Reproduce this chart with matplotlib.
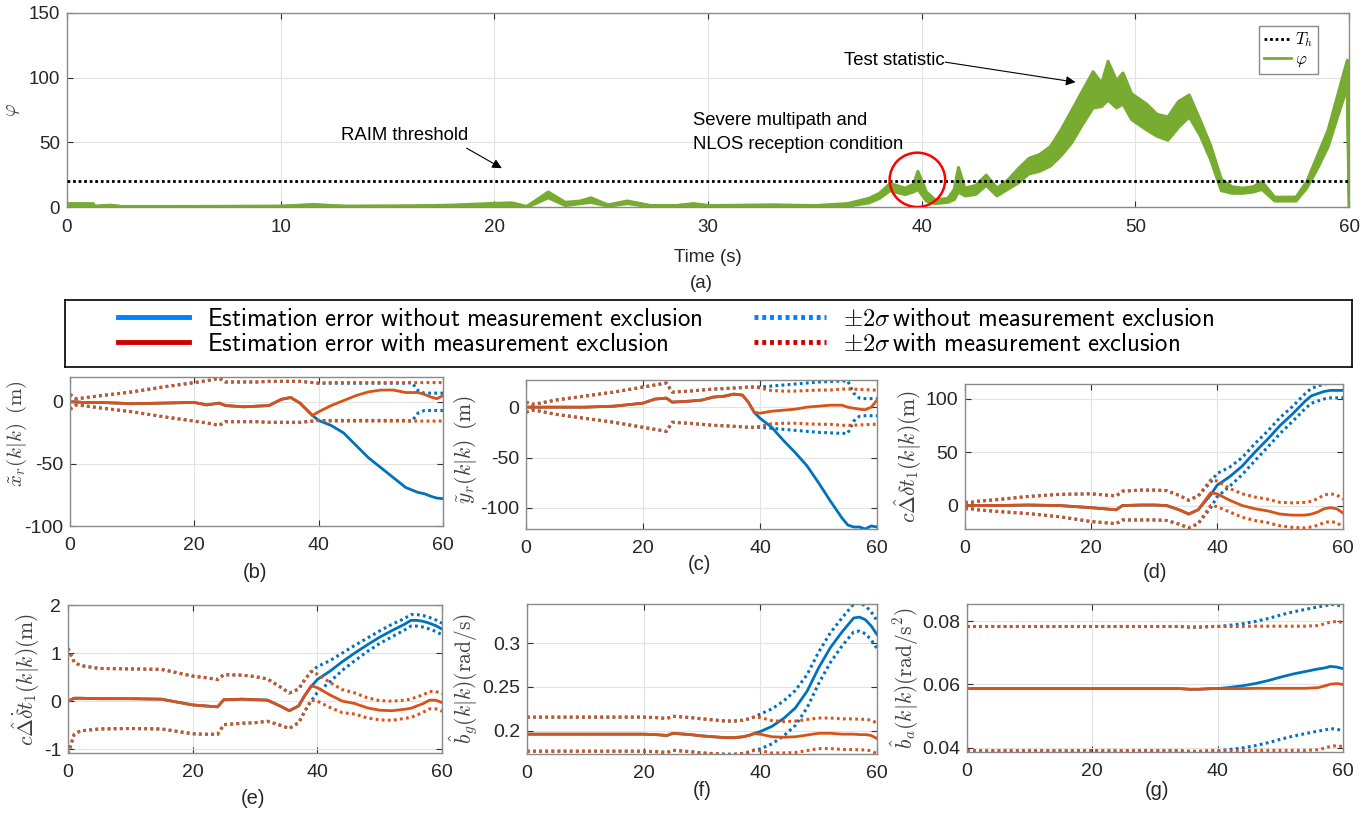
import matplotlib
matplotlib.use("Agg")
import matplotlib.pyplot as plt
from matplotlib.lines import Line2D
from matplotlib.patches import Ellipse
from matplotlib.ticker import FuncFormatter
import numpy as np

plt.rcParams["font.family"] = ["Liberation Sans", "DejaVu Sans"]
plt.rcParams["mathtext.fontset"] = "cm"
plt.rcParams["axes.unicode_minus"] = False

# ---- (a) test statistic: lower / upper edge of the noisy band ----
phi_t = [0, 1.2, 1.3, 2.0, 2.5, 5, 10, 11.5, 13, 16, 18, 20, 20.8, 21.5, 22.5,
         23.3, 24.0, 24.5, 25.3, 26.2, 27.3, 28.5, 29.3, 30, 33, 35, 36.5, 37.5, 38.0, 38.5,
         39.2, 39.6, 39.8, 40.2, 40.6, 41.2, 41.5, 41.7, 42.0, 42.5, 43.0, 43.5, 44.0, 44.5, 45.0,
         45.5, 46.0, 46.5, 47.0, 47.5, 48.0, 48.4, 48.7, 49.1, 49.4, 49.8, 50.5, 51.0, 51.5, 52.0,
         52.5, 53.0, 53.5, 54.0, 54.5, 55.0, 55.5, 55.9, 56.5, 57.5, 58.0, 58.5, 59.0, 59.5, 59.9, 60.0]
phi_hi = [3, 3, 1, 1.8, 0.8, 0.8, 1, 2.3, 1, 1.2, 1.8, 3.2, 3.6, 0.8, 12,
          4, 5, 7.5, 2, 5, 1.5, 1.5, 3, 1.5, 2, 1.5, 3, 7, 11, 18.5,
          15, 18, 28, 12, 6, 7, 14, 31, 15, 17, 25, 15, 21, 30, 38,
          41, 47, 60, 75, 90, 105, 96, 113, 98, 104, 88, 80, 72, 70, 82,
          87, 68, 48, 22, 16, 15, 16, 20, 8, 8, 20, 40, 60, 90, 114, 0]
phi_lo = [1, 1, 0, 0.6, 0, 0, 0.2, 0.8, 0.2, 0.3, 0.6, 1.5, 1.5, 0, 7.5,
          1.5, 3, 4, 1, 3, 0.5, 0.5, 1.5, 0.5, 0.8, 0.3, 1, 3.5, 7, 13,
          10, 12, 14, 5, 3, 4, 6, 12, 9, 10, 17, 9, 14, 19, 26,
          28, 32, 40, 50, 64, 77, 78, 83, 77, 80, 68, 60, 55, 52, 62,
          70, 56, 37, 13, 11, 11, 12, 14, 5, 5, 15, 30, 47, 73, 93, 0]
threshold = 20

# ---- (b)-(g): shared time grid ----
t_s = [0, 1, 2, 5, 10, 15, 20, 22, 24, 25, 28, 30, 32, 34, 35.5, 37,
       38, 39, 40, 42, 44, 46, 48, 50, 52, 54, 55, 56, 57, 58, 59, 60]

# (b) x position error, bounds are +-2 sigma around zero
xr_red = [0, 0, -0.5, -0.5, -1.5, -1, -0.5, -2.5, -1, -3, -4, -3.5, -3, 2, 3.5, -1,
          -6, -11, -8, -3, 1, 5, 8, 9.5, 9.5, 7.5, 7.5, 7.5, 6, 4, 2.5, 5]
xr_blue = [0, 0, -0.5, -0.5, -1.5, -1, -0.5, -2.5, -1, -3, -4, -3.5, -3, 2, 3.5, -1,
           -6, -11, -15, -19, -25, -35, -45, -53, -61, -69, -71, -73, -74, -76, -77.5, -78]
xr_red_2s = [6, 2.5, 3, 5, 8, 12, 15.5, 17, 19, 16, 16, 16, 16.5, 16.5, 16.5, 16.5,
             16, 15.5, 15, 15.5, 15.5, 15.5, 15.5, 15.5, 15.5, 15.5, 15.5, 15.5, 15.5, 15.5, 15.5, 15.5]
xr_blue_2s = [6, 2.5, 3, 5, 8, 12, 15.5, 17, 19, 16, 16, 16, 16.5, 16.5, 16.5, 16.5,
              16, 15.5, 15, 15, 15, 15, 15, 15, 15, 15, 15.5, 9, 7, 7, 7, 7]

# (c) y position error
yr_red = [0, 0, 0, 0, 0, 1, 4, 8, 9, 5, 6, 7, 10, 11, 13, 12,
          5, -5, -6, -4, -3, -2, 0, 1, 2, 2, 0, -1, -2, -2.5, 0, 7]
yr_blue = [0, 0, 0, 0, 0, 1, 4, 8, 9, 5, 6, 7, 10, 11, 13, 12,
           5, -5, -11, -20, -33, -45, -58, -75, -93, -110, -117, -119, -119, -121, -118, -119]
yr_red_2s = [5, 3, 3.5, 7, 11, 15, 20, 22, 24, 15, 16, 17, 18, 18.5, 19, 19.5,
             20, 20, 19, 16.5, 16, 16, 16.5, 17, 17, 18, 18, 18, 17.5, 17.5, 17, 17]
yr_blue_2s = [5, 3, 3.5, 7, 11, 15, 20, 22, 24, 15, 16, 17, 18, 18.5, 19, 19.5,
              20, 20, 20, 21, 22, 23, 24, 25, 25.5, 26, 26, 14, 9, 8.5, 8.5, 8.5]

# (d) clock bias estimate, bounds are estimate +-2 sigma
dt_red = [0, 0, 0, 0, 0.5, 0, -2, -3, -4, 0, 0.5, 0.5, 0, -4, -8, -4,
          4, 12, 11, 5, 0, -3, -5, -8, -9, -9, -8, -6, -3, -2, -3, -7]
dt_blue = [0, 0, 0, 0, 0.5, 0, -2, -3, -4, 0, 0.5, 0.5, 0, -4, -8, -4,
           3, 10, 19, 27, 37, 50, 62, 75, 86, 98, 103, 105, 107, 108, 108, 108]
dt_red_2s = [3, 3, 4, 5.5, 8, 10.5, 13, 13, 13, 13.5, 14, 14, 14, 13.5, 13, 13,
             12.5, 12, 12, 11, 11, 11, 11, 11, 11.5, 12, 12, 12.5, 13, 13, 13, 13]
dt_blue_2s = [3, 3, 4, 5.5, 8, 10.5, 13, 13, 13, 13.5, 14, 14, 14, 13.5, 13, 13,
              12.5, 12, 11, 9, 8, 8, 7.5, 7.5, 7, 7, 7, 7, 7, 7, 7, 7]

# (e) clock drift estimate
dtd_red = [0, 0.06, 0.06, 0.05, 0.05, 0.04, -0.08, -0.1, -0.12, 0.03, 0.04, 0.03, 0.02, -0.1, -0.2, -0.1,
           0.12, 0.32, 0.28, 0.13, 0.0, -0.05, -0.14, -0.19, -0.2, -0.17, -0.15, -0.1, -0.05, 0.02, 0.02, -0.03]
dtd_blue = [0, 0.06, 0.06, 0.05, 0.05, 0.04, -0.08, -0.1, -0.12, 0.03, 0.04, 0.03, 0.02, -0.1, -0.2, -0.1,
            0.12, 0.3, 0.45, 0.62, 0.82, 1.0, 1.17, 1.33, 1.47, 1.6, 1.68, 1.68, 1.66, 1.62, 1.57, 1.5]
dtd_red_2s = [1.1, 0.75, 0.68, 0.63, 0.62, 0.62, 0.6, 0.59, 0.57, 0.52, 0.5, 0.48, 0.44, 0.4, 0.37, 0.35,
              0.33, 0.3, 0.28, 0.26, 0.24, 0.22, 0.21, 0.2, 0.2, 0.19, 0.19, 0.19, 0.18, 0.18, 0.18, 0.18]
dtd_blue_2s = [1.1, 0.75, 0.68, 0.63, 0.62, 0.62, 0.6, 0.59, 0.57, 0.52, 0.5, 0.48, 0.44, 0.4, 0.37, 0.35,
               0.33, 0.3, 0.27, 0.22, 0.18, 0.16, 0.14, 0.13, 0.13, 0.12, 0.12, 0.12, 0.12, 0.12, 0.12, 0.12]

# (f) gyro bias estimate
bg_red = [0.196, 0.196, 0.196, 0.196, 0.196, 0.196, 0.196, 0.1955, 0.1945, 0.197, 0.1955, 0.194, 0.193, 0.192, 0.192, 0.193,
          0.1945, 0.1965, 0.196, 0.193, 0.1925, 0.193, 0.195, 0.197, 0.197, 0.196, 0.196, 0.196, 0.1955, 0.1955, 0.1945, 0.191]
bg_blue = [0.196, 0.196, 0.196, 0.196, 0.196, 0.196, 0.196, 0.1955, 0.1945, 0.197, 0.1955, 0.194, 0.193, 0.192, 0.192, 0.193,
           0.1945, 0.197, 0.199, 0.205, 0.214, 0.226, 0.245, 0.272, 0.295, 0.313, 0.321, 0.329, 0.33, 0.327, 0.32, 0.31]
bg_red_2s = [0.0195, 0.0195, 0.0195, 0.0195, 0.0195, 0.0195, 0.0195, 0.0195, 0.0195, 0.0195, 0.0195, 0.0195, 0.0193, 0.019, 0.019, 0.019,
             0.019, 0.019, 0.019, 0.0185, 0.018, 0.018, 0.0178, 0.0175, 0.0175, 0.0175, 0.0175, 0.0175, 0.0175, 0.0175, 0.0175, 0.0175]
bg_blue_2s = [0.0195, 0.0195, 0.0195, 0.0195, 0.0195, 0.0195, 0.0195, 0.0195, 0.0195, 0.0195, 0.0195, 0.0195, 0.0193, 0.019, 0.019, 0.019,
              0.019, 0.019, 0.02, 0.02, 0.02, 0.02, 0.019, 0.018, 0.017, 0.016, 0.016, 0.016, 0.016, 0.016, 0.016, 0.016]

# (g) accelerometer bias estimate
ba_red = [0.0587, 0.0587, 0.0587, 0.0587, 0.0587, 0.0587, 0.0587, 0.0587, 0.0587, 0.0587, 0.0587, 0.0587, 0.0587, 0.0587, 0.0585, 0.0585,
          0.0586, 0.0587, 0.0587, 0.0587, 0.0587, 0.0588, 0.0588, 0.0588, 0.0588, 0.0588, 0.0589, 0.059, 0.0595, 0.0601, 0.0603, 0.06]
ba_blue = [0.0587, 0.0587, 0.0587, 0.0587, 0.0587, 0.0587, 0.0587, 0.0587, 0.0587, 0.0587, 0.0587, 0.0587, 0.0587, 0.0587, 0.0585, 0.0585,
           0.0586, 0.0587, 0.0587, 0.0591, 0.0596, 0.0603, 0.0612, 0.0623, 0.0633, 0.0641, 0.0645, 0.0649, 0.0652, 0.0657, 0.0655, 0.065]
ba_red_2s = [0.0196, 0.0196, 0.0196, 0.0196, 0.0196, 0.0196, 0.0196, 0.0196, 0.0196, 0.0196, 0.0196, 0.0196, 0.0196, 0.0196, 0.0196, 0.0196,
             0.0196, 0.0196, 0.0196, 0.0196, 0.0196, 0.0196, 0.0196, 0.0196, 0.0196, 0.0196, 0.0196, 0.0196, 0.0196, 0.0196, 0.0196, 0.0196]
ba_blue_2s = ba_red_2s

BLUE = "#0072BD"
RED = "#D95319"
GREEN = "#77AC30"
W, H = 1372, 815


def box(l, t, r, b):
    return [l / W, 1 - b / H, (r - l) / W, (b - t) / H]


def style(ax, size, xpad):
    ax.grid(True, color="#e3e3e3", lw=0.8)
    ax.set_axisbelow(True)
    for s in ax.spines.values():
        s.set_color("#8a8a8a")
        s.set_linewidth(1.0)
    ax.tick_params(direction="in", top=True, right=True, length=4, width=0.8,
                   color="#303030", labelcolor="#262626", labelsize=size)
    ax.tick_params(axis="y", pad=5)
    ax.tick_params(axis="x", pad=xpad)


fig = plt.figure(figsize=(W / 100, H / 100), dpi=100)

# ---------- (a) ----------
ax0 = fig.add_axes(box(67, 13, 1349, 207))
style(ax0, 13.5, 9)
lo = np.array(phi_lo)
hi = np.array(phi_hi)
ax0.axhline(threshold, color="black", ls=(0, (1, 1)), lw=2, label=r"$T_h$", zorder=3)
ax0.fill_between(phi_t, lo, hi, color=GREEN, edgecolor=GREEN, lw=2.2, zorder=2)
ax0.plot(phi_t, (lo + hi) / 2, color=GREEN, lw=2, label=r"$\varphi$", zorder=2)
ax0.set_xlim(0, 60)
ax0.set_ylim(0, 150)
ax0.set_xticks(range(0, 61, 10))
ax0.set_yticks([0, 50, 100, 150])
ax0.set_ylabel(r"$\varphi$", fontsize=14, color="#404040", labelpad=5)
ax0.set_xlabel("Time (s)", fontsize=13.5, color="#262626", labelpad=9)
ax0.add_patch(Ellipse((39.8, 21), 2.6, 42, fill=False, edgecolor="red", lw=1.8, zorder=4))

arrow = dict(arrowstyle="-|>", color="black", lw=0.8, mutation_scale=14, shrinkA=0, shrinkB=0)
ax0.annotate("", xy=(20.35, 30), xytext=(18.7, 45.5), arrowprops=arrow)
ax0.text(15.8, 55.5, "RAIM threshold", ha="center", va="center", fontsize=13.3)
ax0.text(29.3, 57.5, "Severe multipath and\nNLOS reception condition", ha="left", va="center",
         fontsize=13.3, linespacing=1.55)
ax0.annotate("", xy=(47.2, 96.5), xytext=(41.1, 112), arrowprops=arrow)
ax0.text(38.7, 113, "Test statistic", ha="center", va="center", fontsize=13.3)

leg0 = ax0.legend(loc="upper right", bbox_to_anchor=(0.976, 0.935), fontsize=12,
                  handlelength=1.6, handletextpad=0.25, borderpad=0.3, labelspacing=0.15,
                  borderaxespad=0, fancybox=False, edgecolor="#8a8a8a", framealpha=1)
leg0.get_frame().set_linewidth(1.0)
fig.text(701 / W, 1 - 283 / H, "(a)", ha="center", va="center", fontsize=13.5, color="#262626")

# ---------- shared legend ----------
lax = fig.add_axes(box(65, 300, 1352, 367))
lax.set_xticks([])
lax.set_yticks([])
for s in lax.spines.values():
    s.set_color("black")
    s.set_linewidth(1.2)
handles = [Line2D([], [], color="#0080FF", lw=3.5),
           Line2D([], [], color="#D00000", lw=3.5),
           Line2D([], [], color="#0080FF", lw=3.5, ls=(0, (0.8, 0.8))),
           Line2D([], [], color="#D00000", lw=3.5, ls=(0, (0.8, 0.8)))]
labels = [r"$\mathsf{Estimation\ error\ without\ measurement\ exclusion}$",
          r"$\mathsf{Estimation\ error\ with\ measurement\ exclusion}$",
          r"$\pm 2\sigma\,\mathsf{without\ measurement\ exclusion}$",
          r"$\pm 2\sigma\,\mathsf{with\ measurement\ exclusion}$"]
lax.legend(handles, labels, ncol=2, loc="center left", bbox_to_anchor=(0.041, 0.53),
           frameon=False, fontsize=17.8, handlelength=2.9, handletextpad=0.7,
           columnspacing=2.1, labelspacing=0.05, borderpad=0, borderaxespad=0)

# ---------- (b)-(g) ----------
panels = [
    dict(pos=(70, 377, 443, 526), red=xr_red, blue=xr_blue, r2=xr_red_2s, b2=xr_blue_2s, centered=False,
         ylim=(-100, 20), yticks=[-100, -50, 0], ylabel=r"$\tilde{x}_r(k|k)\ \,(\mathrm{m})$",
         label_y=0.62, lpad=-4, lsize=15, cap="(b)", cap_xy=(255, 573)),
    dict(pos=(526, 380, 877, 529), red=yr_red, blue=yr_blue, r2=yr_red_2s, b2=yr_blue_2s, centered=False,
         ylim=(-121, 27), yticks=[-100, -50, 0], ylabel=r"$\tilde{y}_r(k|k)\ \,(\mathrm{m})$",
         label_y=0.53, lpad=1, lsize=15.5, cap="(c)", cap_xy=(699, 565)),
    dict(pos=(965, 384, 1343, 529), red=dt_red, blue=dt_blue, r2=dt_red_2s, b2=dt_blue_2s, centered=True,
         ylim=(-22, 114), yticks=[0, 50, 100], ylabel=r"$c\hat{\Delta}\delta t_1(k|k)(\mathrm{m})$",
         label_y=0.5, lpad=1, lsize=15.5, cap="(d)", cap_xy=(1155, 573)),
    dict(pos=(68, 605, 442, 753), red=dtd_red, blue=dtd_blue, r2=dtd_red_2s, b2=dtd_blue_2s, centered=True,
         ylim=(-1.08, 2), yticks=[-1, 0, 1, 2], ylabel=r"$c\hat{\Delta}\dot{\delta} t_1(k|k)(\mathrm{m})$",
         label_y=0.5, lpad=1, lsize=15.5, cap="(e)", cap_xy=(253, 798)),
    dict(pos=(527, 604, 877, 754), red=bg_red, blue=bg_blue, r2=bg_red_2s, b2=bg_blue_2s, centered=True,
         ylim=(0.1733, 0.345), yticks=[0.2, 0.25, 0.3], ylabel=r"$\hat{b}_g(k|k)(\mathrm{rad/s})$",
         label_y=0.5, lpad=1, lsize=15.5, cap="(f)", cap_xy=(702, 790)),
    dict(pos=(967, 604, 1343, 752), red=ba_red, blue=ba_blue, r2=ba_red_2s, b2=ba_blue_2s, centered=True,
         ylim=(0.0387, 0.0854), yticks=[0.04, 0.06, 0.08], ylabel=r"$\hat{b}_a(k|k)(\mathrm{rad/s^2})$",
         label_y=0.5, lpad=1, lsize=15.5, cap="(g)", cap_xy=(1157, 790)),
]

dots = (0, (0.9, 1.1))
for p in panels:
    ax = fig.add_axes(box(*p["pos"]))
    style(ax, 14, 8)
    red = np.array(p["red"])
    blue = np.array(p["blue"])
    r2 = np.array(p["r2"])
    b2 = np.array(p["b2"])
    rc = red if p["centered"] else 0 * red
    bc = blue if p["centered"] else 0 * blue
    ax.plot(t_s, bc + b2, color=BLUE, lw=2.2, ls=dots)
    ax.plot(t_s, bc - b2, color=BLUE, lw=2.2, ls=dots)
    ax.plot(t_s, blue, color=BLUE, lw=2)
    ax.plot(t_s, rc + r2, color=RED, lw=2.2, ls=dots)
    ax.plot(t_s, rc - r2, color=RED, lw=2.2, ls=dots)
    ax.plot(t_s, red, color=RED, lw=2)
    ax.set_xlim(0, 60)
    ax.set_ylim(*p["ylim"])
    ax.set_xticks([0, 20, 40, 60])
    ax.set_yticks(p["yticks"])
    ax.yaxis.set_major_formatter(FuncFormatter(lambda v, pos: f"{v:g}"))
    ax.set_ylabel(p["ylabel"], fontsize=p["lsize"], color="#404040", labelpad=p["lpad"])
    ax.yaxis.label.set_y(p["label_y"])
    fig.text(p["cap_xy"][0] / W, 1 - p["cap_xy"][1] / H, p["cap"], ha="center", va="center",
             fontsize=14.5, color="#262626")

fig.savefig("out.png", dpi=100)
